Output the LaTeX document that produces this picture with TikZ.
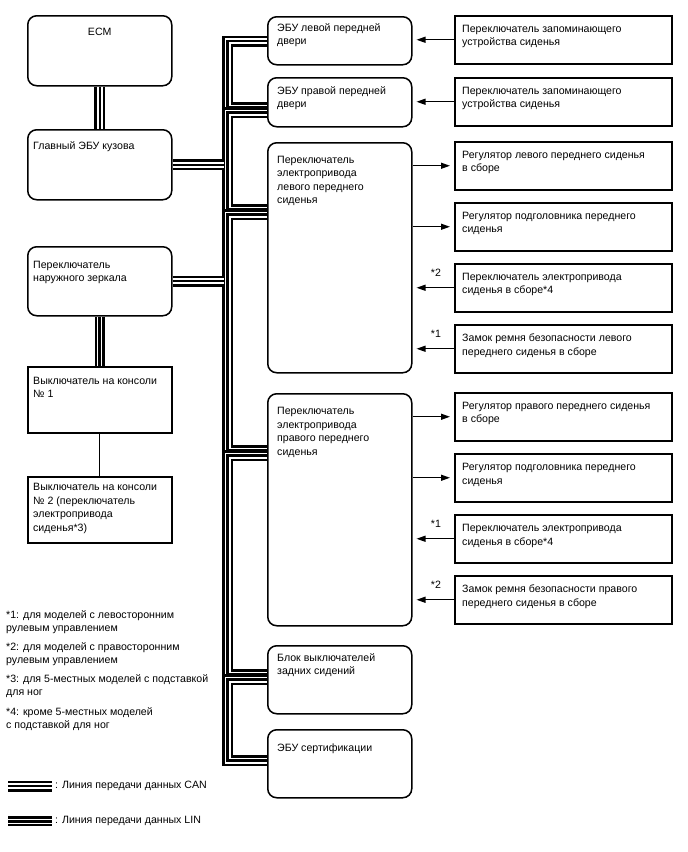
\documentclass[tikz,border=0pt]{standalone}
\usepackage{fontspec}
\setmainfont{Liberation Sans}
\usetikzlibrary{arrows.meta, positioning}
\tikzset{
  ecu/.style={draw, line width=1.5pt, rounded corners=9pt, minimum width=144pt,
              anchor=north west, inner sep=0pt},
  sw/.style={draw, line width=1.5pt, minimum width=144pt, anchor=north west, inner sep=0pt},
  part/.style={draw, line width=1.5pt, minimum width=217pt, minimum height=48pt,
               anchor=north west, inner sep=0pt},
  txt/.style={anchor=north west, align=left, inner sep=0pt, font=\fontsize{10.6}{13.5}\selectfont},
  note/.style={inner sep=0pt, font=\fontsize{10.6}{13.5}\selectfont},
  can/.style={line width=11pt, postaction={draw=white, line width=6pt},
              postaction={draw=black, line width=2.4pt}},
  lin/.style={line width=10pt, postaction={draw=white, line width=5pt},
              postaction={draw=black, line width=3pt}},
  sig/.style={line width=1.3pt, -{Triangle[length=9pt, width=6pt]}, shorten >=4pt}
}

\begin{document}
\begin{tikzpicture}[x=1pt, y=-1pt]
  \useasboundingbox (0,0) rectangle (688,852);

  % left column
  \node[ecu, minimum height=70pt] (ecm) at (27,15) {};
  \node[ecu, minimum height=70pt] (body) at (27,129) {};
  \node[ecu, minimum height=69pt] (mirror) at (27,246) {};
  \node[sw, minimum height=66pt] (con1) at (27,366) {};
  \node[sw, minimum height=66pt] (con2) at (27,476) {};
  \node[txt, anchor=north] (ecmT) at ([yshift=-13pt]ecm.north) {ECM};
  \node[txt] (bodyT) at ([xshift=6pt, yshift=-12pt]body.north west) {Главный ЭБУ кузова};
  \node[txt] (mirrorT) at ([xshift=6pt, yshift=-15pt]mirror.north west)
    {Переключатель\\наружного зеркала};
  \node[txt] (con1T) at ([xshift=6pt, yshift=-11pt]con1.north west)
    {Выключатель на консоли\\№ 1};
  \node[txt] (con2T) at ([xshift=6pt, yshift=-7pt]con2.north west)
    {Выключатель на консоли\\№ 2 (переключатель\\электропривода\\сиденья*3)};

  % middle column
  \node[ecu, minimum height=48pt] (doorL) at (267,16) {};
  \node[ecu, minimum height=49pt] (doorR) at (267,77) {};
  \node[ecu, minimum height=230pt] (seatL) at (267,142) {};
  \node[ecu, minimum height=232pt] (seatR) at (267,393) {};
  \node[ecu, minimum height=68pt] (rear) at (267,645) {};
  \node[ecu, minimum height=68pt] (cert) at (267,729) {};
  \node[txt] (doorLT) at ([xshift=10pt, yshift=-7pt]doorL.north west)
    {ЭБУ левой передней\\двери};
  \node[txt] (doorRT) at ([xshift=10pt, yshift=-9pt]doorR.north west)
    {ЭБУ правой передней\\двери};
  \node[txt] (seatLT) at ([xshift=10pt, yshift=-14pt]seatL.north west)
    {Переключатель\\электропривода\\левого переднего\\сиденья};
  \node[txt] (seatRT) at ([xshift=10pt, yshift=-14pt]seatR.north west)
    {Переключатель\\электропривода\\правого переднего\\сиденья};
  \node[txt] (rearT) at ([xshift=10pt, yshift=-8pt]rear.north west)
    {Блок выключателей\\задних сидений};
  \node[txt] (certT) at ([xshift=10pt, yshift=-15pt]cert.north west) {ЭБУ сертификации};

  % right column
  \node[part] (memL) at (454,15) {};
  \node[part] (memR) at (454,77) {};
  \node[part] (adjL) at (454,141) {};
  \node[part] (headL) at (454,202) {};
  \node[part] (pswL) at (454,263) {};
  \node[part] (beltL) at (454,324) {};
  \node[part] (adjR) at (454,392) {};
  \node[part] (headR) at (454,453) {};
  \node[part] (pswR) at (454,514) {};
  \node[part] (beltR) at (454,575) {};
  \node[txt] at ([xshift=8pt, yshift=-10pt]memL.north west)
    {Переключатель запоминающего\\устройства сиденья};
  \node[txt] at ([xshift=8pt, yshift=-10pt]memR.north west)
    {Переключатель запоминающего\\устройства сиденья};
  \node[txt] at ([xshift=8pt, yshift=-10pt]adjL.north west)
    {Регулятор левого переднего сиденья\\в сборе};
  \node[txt] at ([xshift=8pt, yshift=-10pt]headL.north west)
    {Регулятор подголовника переднего\\сиденья};
  \node[txt] at ([xshift=8pt, yshift=-10pt]pswL.north west)
    {Переключатель электропривода\\сиденья в сборе*4};
  \node[txt] at ([xshift=8pt, yshift=-10pt]beltL.north west)
    {Замок ремня безопасности левого\\переднего сиденья в сборе};
  \node[txt] at ([xshift=8pt, yshift=-10pt]adjR.north west)
    {Регулятор правого переднего сиденья\\в сборе};
  \node[txt] at ([xshift=8pt, yshift=-10pt]headR.north west)
    {Регулятор подголовника переднего\\сиденья};
  \node[txt] at ([xshift=8pt, yshift=-10pt]pswR.north west)
    {Переключатель электропривода\\сиденья в сборе*4};
  \node[txt] at ([xshift=8pt, yshift=-10pt]beltR.north west)
    {Замок ремня безопасности правого\\переднего сиденья в сборе};

  % signals
  \draw[sig] (memL.west) -- (doorL.east |- memL.west);
  \draw[sig] (memR.west) -- (doorR.east |- memR.west);
  \draw[sig] (seatL.east |- adjL.west) -- (adjL.west);
  \draw[sig] (seatL.east |- headL.west) -- (headL.west);
  \draw[sig] (pswL.west) -- (seatL.east |- pswL.west);
  \draw[sig] (beltL.west) -- (seatL.east |- beltL.west);
  \draw[sig] (seatR.east |- adjR.west) -- (adjR.west);
  \draw[sig] (seatR.east |- headR.west) -- (headR.west);
  \draw[sig] (pswR.west) -- (seatR.east |- pswR.west);
  \draw[sig] (beltR.west) -- (seatR.east |- beltR.west);
  \node[note, anchor=base] (n2L) at ([xshift=-18pt, yshift=11pt]pswL.west) {*2};
  \node[note, anchor=base] (n1L) at ([xshift=-18pt, yshift=11pt]beltL.west) {*1};
  \node[note, anchor=base] (n1R) at ([xshift=-18pt, yshift=11pt]pswR.west) {*1};
  \node[note, anchor=base] (n2R) at ([xshift=-18pt, yshift=11pt]beltR.west) {*2};

  % bus
  \coordinate (trunk) at (224,0);
  \foreach \a/\ya/\b/\yb in {doorL/41/doorR/107.5, doorR/112.5/seatL/209.5,
      seatL/214.5/seatR/450.5, seatR/455.5/rear/674.5, rear/679.5/cert/760.5}
    \draw[can] (\a.west |- 0,\ya) -| (227.5,\yb) -- (\b.west |- 0,\yb);
  \draw[can] (body.east) -- (body.east -| trunk);
  \draw[can] (mirror.east) -- (mirror.east -| trunk);
  \draw[can] (ecm) -- (body);
  \draw[lin] (mirror) -- (con1);
  \draw[line width=1.3pt] (con1) -- (con2);

  % notes
  \node[txt] (fn1) at (6,610) {*1: для моделей с левосторонним\\рулевым управлением};
  \node[txt] (fn2) at (6,642) {*2: для моделей с правосторонним\\рулевым управлением};
  \node[txt] (fn3) at (6,674) {*3: для 5-местных моделей с подставкой\\для ног};
  \node[txt] (fn4) at (6,707) {*4: кроме 5-местных моделей\\с подставкой для ног};

  % legend
  \draw[can] (8,786) -- (52,786);
  \node[note, anchor=west] (canT) at (55,786) {: Линия передачи данных CAN};
  \draw[lin] (8,821) -- (52,821);
  \node[note, anchor=west] (linT) at (55,821) {: Линия передачи данных LIN};
\end{tikzpicture}
\end{document}
